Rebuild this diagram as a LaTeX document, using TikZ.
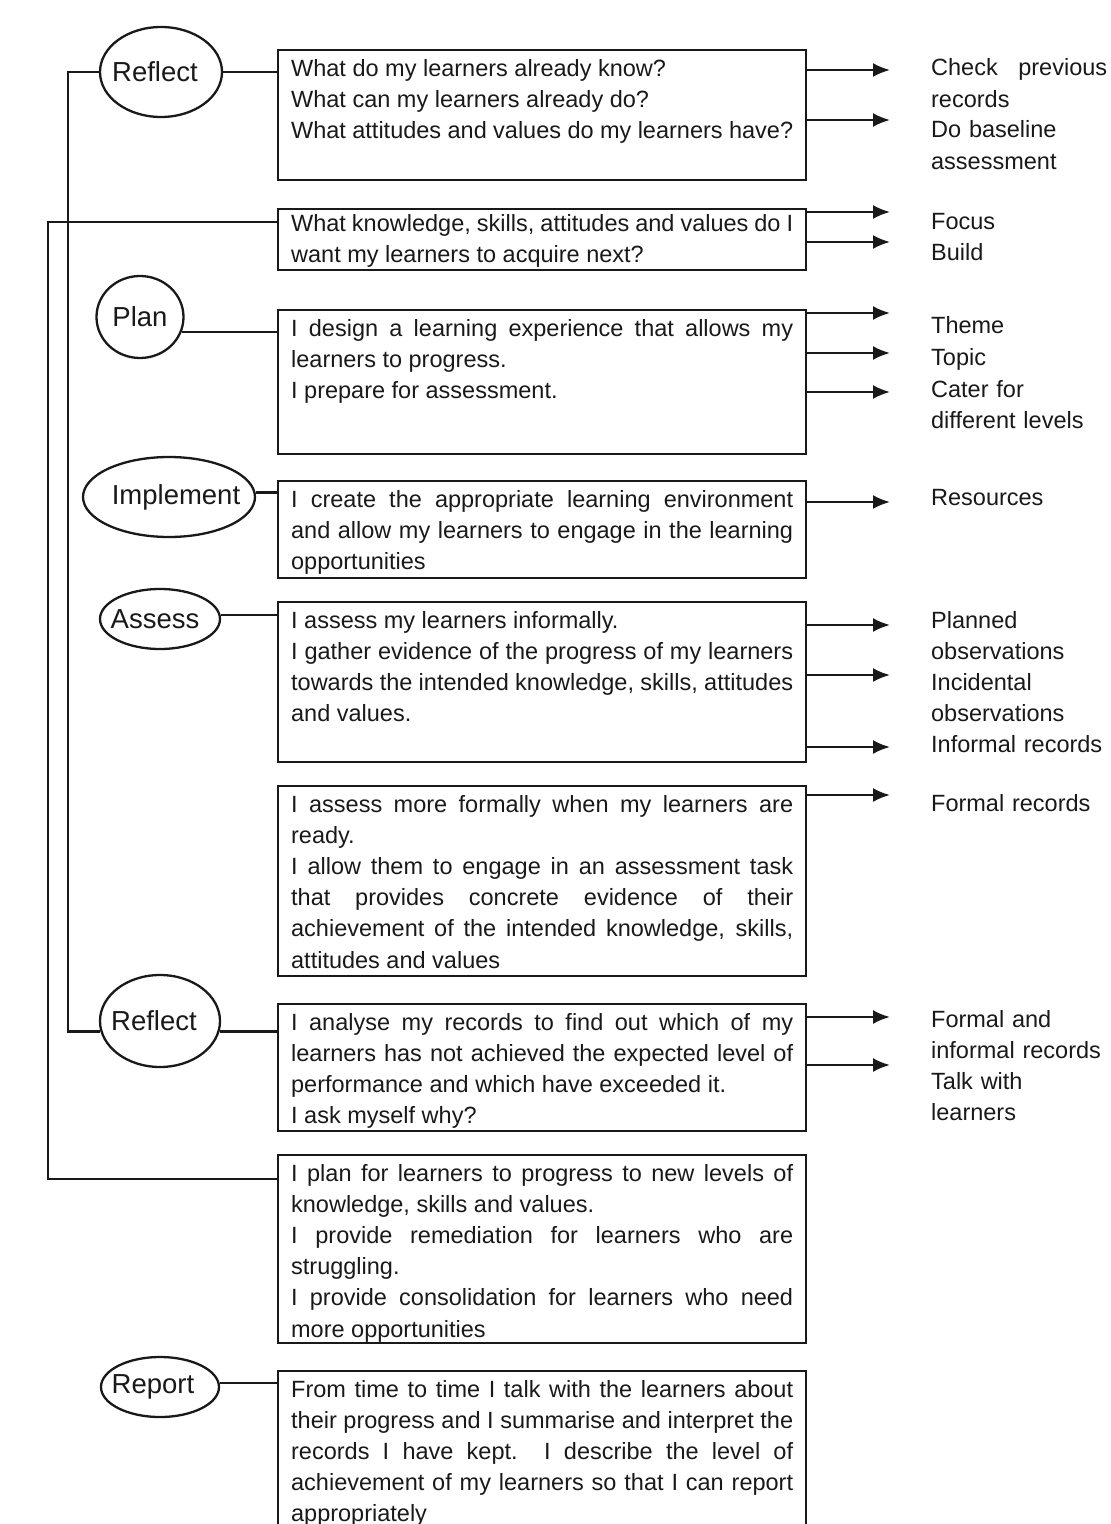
\documentclass[tikz,border=0pt]{standalone}
\usepackage{fontspec}
\setmainfont{Liberation Sans}
\usetikzlibrary{arrows.meta,shapes.geometric}
\hyphenpenalty=10000
\exhyphenpenalty=10000

\begin{document}
\begin{tikzpicture}[x=0.5pt,y=-0.5pt,line width=1.15pt,color=black!90]

\tikzset{stage/.style = {shape=ellipse,draw,inner sep=0pt,font=\fontsize{13.75}{16}\selectfont}}
\tikzset{box/.style = {draw,anchor=north west,text width=251pt,align=justify,inner xsep=6.5pt,inner ysep=4pt,text height=9pt,font=\fontsize{11.75}{15.6}\selectfont}}
\tikzset{note/.style = {anchor=base west,text width=95pt,align=left,inner sep=0pt,font=\fontsize{11.75}{15.6}\selectfont}}
\tikzset{arc/.style = {-{Latex[length=8.5pt,width=7pt]},shorten >=20pt}}

\useasboundingbox (0,0) rectangle (1110,1524);

% stages
\node[stage,minimum width=61pt,minimum height=45pt] (refl1) at (161,72) {\makebox[0pt]{\hspace{-6pt}Reflect}};
\node[stage,minimum width=43.5pt,minimum height=41pt] (plan) at (140,317) {\makebox[0pt]{Plan}};
\node[stage,minimum width=86pt,minimum height=40pt] (impl) at (169,497) {\makebox[0pt]{\hspace{7pt}Implement}};
\node[stage,minimum width=60pt,minimum height=30pt] (assess) at (160,619) {\makebox[0pt]{\hspace{-5pt}Assess}};
\node[stage,minimum width=60pt,minimum height=46pt] (refl2) at (160,1021) {\makebox[0pt]{\hspace{-6pt}Reflect}};
\node[stage,minimum width=59pt,minimum height=30pt] (report) at (160,1387) {\makebox[0pt]{\hspace{-7pt}Report}};

% boxes
\node[box,text depth=48pt] (know) at (277,49) {What do my learners already know?\par
What can my learners already do?\par
What attitudes and values do my learners have?};
\node[box,text height=7pt,text depth=15.5pt] (next) at (277,208) {What knowledge, skills, attitudes and values do I\linebreak
want my learners to acquire next?};
\node[box,text depth=55pt] (design) at (277,309) {I design a learning experience that allows my\linebreak
learners to progress.\par
I prepare for assessment.};
\node[box,text depth=31.5pt] (create) at (277,480) {I create the appropriate learning environment\linebreak
and allow my learners to engage in the learning\linebreak
opportunities};
\node[box,text depth=63pt] (informal) at (277,601) {I assess my learners informally.\par
I gather evidence of the progress of my learners\linebreak
towards the intended knowledge, skills, attitudes\linebreak
and values.};
\node[box,text depth=78pt] (formal) at (277,785) {I assess more formally when my learners are\linebreak
ready.\par
I allow them to engage in an assessment task\linebreak
that provides concrete evidence of their\linebreak
achievement of the intended knowledge, skills,\linebreak
attitudes and values};
\node[box,text depth=46.5pt] (analyse) at (277,1003) {I analyse my records to find out which of my\linebreak
learners has not achieved the expected level of\linebreak
performance and which have exceeded it.\par
I ask myself why?};
\node[box,text depth=77pt] (progress) at (277,1154) {I plan for learners to progress to new levels of\linebreak
knowledge, skills and values.\par
I provide remediation for learners who are\linebreak
struggling.\par
I provide consolidation for learners who need\linebreak
more opportunities};
\node[box,text depth=70.5pt] (summary) at (277,1370) {From time to time I talk with the learners about\linebreak
their progress and I summarise and interpret the\linebreak
records I have kept.\ \ I describe the level of\linebreak
achievement of my learners so that I can report\linebreak
appropriately};

% notes
\node[note,text width=88pt] (c1) at (930,76) {Check \hfill previous\\records};
\node[note] (c2) at (930,138) {Do baseline\\assessment};
\node[note] (c3) at (930,230) {Focus};
\node[note] (c4) at (930,261) {Build};
\node[note] (c5) at (930,334) {Theme};
\node[note] (c6) at (930,365) {Topic};
\node[note] (c7) at (930,397) {Cater for\\different levels};
\node[note] (c8) at (930,505) {Resources};
\node[note] (c9) at (930,628) {Planned\\observations};
\node[note] (c10) at (930,690) {Incidental\\observations};
\node[note] (c11) at (930,752) {Informal records};
\node[note] (c12) at (930,811) {Formal records};
\node[note] (c13) at (930,1027) {Formal and\\informal records};
\node[note] (c14) at (930,1089) {Talk with\\learners};

% links
\draw (refl1) -- (refl1 -| know.west);
\draw (plan.340) -- (plan.340 -| design.west);
\draw (impl.3) -- (impl.3 -| create.west);
\draw (assess.4) -- (assess.4 -| informal.west);
\draw (refl2.350) -- (refl2.350 -| analyse.west);
\draw (report.4) -- (report.4 -| summary.west);

% loops
\coordinate (inner) at (68,0);
\coordinate (outer) at (48,0);
\coordinate (nx) at ([yshift=4.5pt]next.base west);
\coordinate (px) at ([yshift=1pt]progress.base west);
\draw (refl1.west) -| (inner |- refl2.190) -- (refl2.190);
\draw (nx) -| (outer |- px) -- (px);

% arrows
\foreach \b/\n/\d in {know/c1/3, know/c2/9, next/c3/9, next/c4/9.5,
  design/c5/10.5, design/c6/6, design/c7/2.5, create/c8/1.5,
  informal/c9/1.5, informal/c10/7.5, informal/c11/2.5, formal/c12/8,
  analyse/c13/5, analyse/c14/12}
  \draw[arc] ([yshift=\d pt]\n.base west -| \b.east) -- ([yshift=\d pt]\n.base west);

\end{tikzpicture}
\end{document}
